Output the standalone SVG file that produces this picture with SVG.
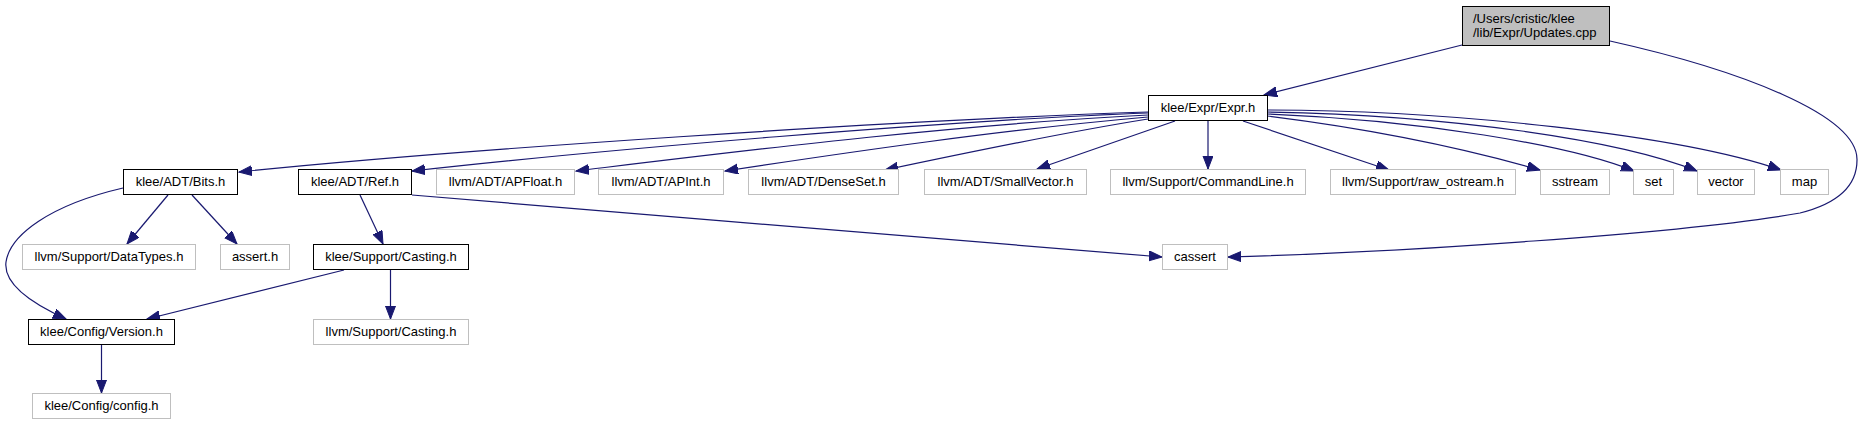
<svg xmlns="http://www.w3.org/2000/svg" width="1861" height="425" viewBox="0 0 1861 425">
<style>
rect{stroke-width:1}
.doc rect{fill:#fff;stroke:#000}
.ext rect{fill:#fff;stroke:#bfbfbf}
.root rect{fill:#bfbfbf;stroke:#000}
text{font-family:"Liberation Sans",Arial,Helvetica,sans-serif;font-size:13px;fill:#000;text-anchor:middle}
.root text{text-anchor:start}
#edges path{fill:none;stroke:#191970;stroke-width:1.2;marker-end:url(#a)}
</style>
<defs>
<marker id="a" markerUnits="userSpaceOnUse" markerWidth="14" markerHeight="11" viewBox="0 0 14 11" refX="13" refY="5" orient="auto"><path d="M0,0 L13,5 L0,10 z" fill="#191970" stroke="#191970" stroke-width="1"/></marker>
</defs>
<rect width="1861" height="425" fill="#fff"/>
<g id="edges">
<path d="M1462,45 L1264,95"/>
<path d="M1610,41 C1740,70 1858,115 1857,160 C1857,185 1840,203 1800,213 C1680,234 1400,252 1228,257"/>
<path d="M1148,112 C900,120 450,150 239,172"/>
<path d="M1148,113 C950,120 600,150 412,171"/>
<path d="M1148,115 C950,125 750,150 576,171"/>
<path d="M1148,117 C1000,130 850,152 725,171"/>
<path d="M1148,119 C1060,133 970,152 885,170"/>
<path d="M1175,121 L1037,169"/>
<path d="M1208,121 L1208,169"/>
<path d="M1243,121 L1389,170"/>
<path d="M1267,116 C1380,130 1470,150 1540,170"/>
<path d="M1267,114 C1420,120 1570,145 1634,171"/>
<path d="M1267,112 C1450,115 1620,140 1697,171"/>
<path d="M1267,110 C1450,110 1680,135 1781,170"/>
<path d="M123,188 C50,205 10,235 6,262 C3,285 35,305 66,319"/>
<path d="M168,195 L127,244"/>
<path d="M192,195 L237,244"/>
<path d="M360,195 L383,244"/>
<path d="M412,195 C650,215 950,240 1162,257"/>
<path d="M344,270 L147,319"/>
<path d="M390.5,270 L390.5,319"/>
<path d="M101.5,345 L101.5,393"/>
</g>
<g id="n-updates" class="root"><rect x="1462.5" y="6.5" width="147" height="39"/><text x="1473" y="22.5">/Users/cristic/klee</text><text x="1473" y="36.5">/lib/Expr/Updates.cpp</text></g>
<g id="n-expr" class="doc"><rect x="1148.5" y="95.5" width="119" height="25"/><text x="1208" y="111.5">klee/Expr/Expr.h</text></g>
<g id="n-bits" class="doc"><rect x="123.5" y="169.5" width="114" height="25"/><text x="180.5" y="185.5">klee/ADT/Bits.h</text></g>
<g id="n-ref" class="doc"><rect x="298.5" y="169.5" width="113" height="25"/><text x="355" y="185.5">klee/ADT/Ref.h</text></g>
<g id="n-apfloat" class="ext"><rect x="436.5" y="169.5" width="138" height="25"/><text x="505.5" y="185.5">llvm/ADT/APFloat.h</text></g>
<g id="n-apint" class="ext"><rect x="598.5" y="169.5" width="125" height="25"/><text x="661" y="185.5">llvm/ADT/APInt.h</text></g>
<g id="n-denseset" class="ext"><rect x="748.5" y="169.5" width="150" height="25"/><text x="823.5" y="185.5">llvm/ADT/DenseSet.h</text></g>
<g id="n-smallvector" class="ext"><rect x="924.5" y="169.5" width="162" height="25"/><text x="1005.5" y="185.5">llvm/ADT/SmallVector.h</text></g>
<g id="n-commandline" class="ext"><rect x="1110.5" y="169.5" width="195" height="25"/><text x="1208" y="185.5">llvm/Support/CommandLine.h</text></g>
<g id="n-rawostream" class="ext"><rect x="1330.5" y="169.5" width="185" height="25"/><text x="1423" y="185.5">llvm/Support/raw_ostream.h</text></g>
<g id="n-sstream" class="ext"><rect x="1540.5" y="169.5" width="69" height="25"/><text x="1575" y="185.5">sstream</text></g>
<g id="n-set" class="ext"><rect x="1633.5" y="169.5" width="40" height="25"/><text x="1653.5" y="185.5">set</text></g>
<g id="n-vector" class="ext"><rect x="1697.5" y="169.5" width="57" height="25"/><text x="1726" y="185.5">vector</text></g>
<g id="n-map" class="ext"><rect x="1780.5" y="169.5" width="48" height="25"/><text x="1804.5" y="185.5">map</text></g>
<g id="n-datatypes" class="ext"><rect x="22.5" y="244.5" width="173" height="25"/><text x="109" y="260.5">llvm/Support/DataTypes.h</text></g>
<g id="n-assert" class="ext"><rect x="220.5" y="244.5" width="69" height="25"/><text x="255" y="260.5">assert.h</text></g>
<g id="n-kcasting" class="doc"><rect x="313.5" y="244.5" width="155" height="25"/><text x="391" y="260.5">klee/Support/Casting.h</text></g>
<g id="n-cassert" class="ext"><rect x="1162.5" y="244.5" width="65" height="25"/><text x="1195" y="260.5">cassert</text></g>
<g id="n-version" class="doc"><rect x="28.5" y="319.5" width="146" height="25"/><text x="101.5" y="335.5">klee/Config/Version.h</text></g>
<g id="n-lcasting" class="ext"><rect x="313.5" y="319.5" width="155" height="25"/><text x="391" y="335.5">llvm/Support/Casting.h</text></g>
<g id="n-config" class="ext"><rect x="32.5" y="393.5" width="138" height="25"/><text x="101.5" y="409.5">klee/Config/config.h</text></g>
</svg>
